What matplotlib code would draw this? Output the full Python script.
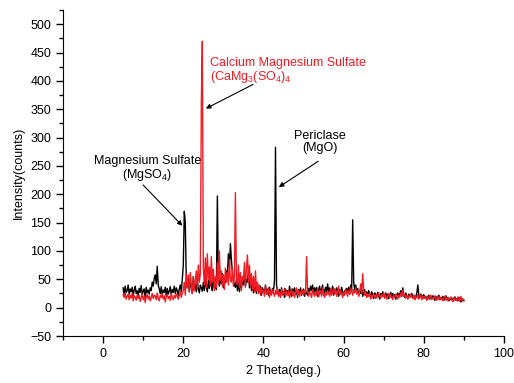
import numpy as np
import matplotlib
matplotlib.use("Agg")
import matplotlib.pyplot as plt
from matplotlib.ticker import MultipleLocator

plt.rcParams['font.family'] = ['Liberation Sans', 'DejaVu Sans']
plt.rcParams['mathtext.fontset'] = 'custom'
plt.rcParams['mathtext.rm'] = 'Liberation Sans'

# 2 theta sampling grid (deg), 0.25 deg step from 5 to 90
two_theta = np.linspace(5, 90, 341)

# black pattern (counts), 4 values per degree
black_counts = [
    35, 22, 38, 27,  30, 40, 24, 33,  28, 36, 21, 31,  38, 25, 30, 20,   # 5-8
    34, 27, 39, 23,  29, 33, 18, 36,  26, 31, 24, 35,  30, 45, 38, 52,   # 9-12
    58, 42, 73, 40,  33, 25, 37, 22,  31, 27, 36, 20,  34, 24, 29, 37,   # 13-16
    22, 32, 27, 38,  25, 35, 30, 21,  33, 40, 28, 50,  75, 170, 150, 48, # 17-20
    35, 52, 28, 44,  38, 25, 55, 30,  42, 28, 48, 33,  26, 40, 35, 29,   # 21-24
    45, 30, 52, 36,  28, 48, 34, 55,  40, 30, 58, 35,  45, 32, 197, 48,  # 25-28
    38, 55, 42, 60,  35, 50, 44, 65,  58, 95, 70, 113, 85, 62, 48, 40,   # 29-32
    36, 50, 30, 45,  28, 42, 35, 55,  40, 62, 38, 50,  45, 65, 35, 58,   # 33-36
    30, 48, 26, 40,  35, 25, 42, 30,  28, 38, 22, 35,  30, 26, 40, 24,   # 37-40
    33, 22, 36, 28,  25, 34, 30, 48,  283, 40, 28, 22, 32, 20, 35, 25,   # 41-44
    28, 18, 33, 24,  30, 22, 38, 26,  20, 33, 27, 35,  24, 30, 18, 32,   # 45-48
    26, 35, 22, 29,  33, 20, 30, 25,  22, 34, 28, 38,  30, 40, 24, 35,   # 49-52
    27, 36, 20, 32,  38, 25, 33, 40,  22, 30, 36, 27,  42, 28, 35, 24,   # 53-56
    30, 38, 22, 33,  26, 35, 29, 20,  32, 24, 36, 28,  22, 30, 26, 34,   # 57-60
    28, 36, 24, 40,  30, 155, 45, 32, 40, 28, 34, 22,  30, 25, 33, 20,   # 61-64
    26, 32, 22, 28,  20, 30, 24, 18,  28, 22, 16, 26,  24, 18, 27, 20,   # 65-68
    15, 25, 21, 28,  22, 17, 26, 20,  24, 16, 22, 27,  18, 25, 20, 23,   # 69-72
    15, 22, 26, 19,  24, 30, 20, 35,  22, 18, 26, 20,  16, 24, 19, 22,   # 73-76
    25, 18, 22, 15,  20, 26, 40, 22,  18, 24, 16, 21,  23, 17, 20, 14,   # 77-80
    19, 22, 15, 20,  16, 21, 18, 13,  20, 15, 19, 22,  14, 18, 16, 20,   # 81-84
    13, 17, 21, 15,  18, 12, 16, 14,  17, 11, 15, 19,  13, 16, 12, 18,   # 85-88
    15, 10, 14, 12,  13,                                                  # 89-90
]

# red pattern (counts), 4 values per degree
red_counts = [
    22, 18, 26, 15,  20, 24, 14, 22,  17, 25, 12, 21,  19, 13, 23, 16,   # 5-8
    22, 11, 18, 24,  14, 20, 9, 19,   23, 15, 21, 12,  18, 25, 16, 22,   # 9-12
    20, 14, 26, 17,  12, 22, 18, 24,  15, 21, 10, 19,  23, 16, 20, 13,   # 13-16
    25, 18, 14, 22,  17, 24, 20, 15,  22, 28, 18, 25,  30, 45, 22, 60,   # 17-20
    35, 58, 28, 62,  40, 25, 55, 30,  48, 65, 32, 75,  45, 60, 360, 470, # 21-24
    70, 40, 88, 35,  95, 50, 72, 38,  90, 45, 68, 30,  55, 35, 80, 42,   # 25-28
    100, 48, 65, 38, 58, 32, 70, 45,  62, 40, 85, 50,  45, 68, 38, 55,   # 29-32
    203, 52, 40, 75, 35, 62, 30, 55,  48, 80, 36, 70,  93, 45, 75, 38,   # 33-36
    60, 32, 55, 28,  65, 30, 45, 25,  40, 22, 35, 28,  30, 20, 38, 24,   # 37-40
    27, 35, 18, 30,  22, 32, 26, 20,  30, 24, 35, 20,  28, 18, 32, 22,   # 41-44
    25, 34, 20, 28,  22, 30, 17, 26,  33, 21, 28, 18,  26, 35, 22, 30,   # 45-48
    20, 28, 24, 32,  22, 30, 26, 90,  30, 20, 28, 24,  18, 32, 25, 20,   # 49-52
    28, 22, 34, 19,  26, 30, 20, 35,  24, 18, 28, 22,  30, 25, 20, 33,   # 53-56
    22, 28, 35, 24,  32, 20, 26, 38,  22, 30, 25, 18,  28, 22, 33, 26,   # 57-60
    20, 30, 24, 35,  28, 22, 32, 26,  35, 24, 30, 20,  28, 42, 25, 60,   # 61-64
    30, 22, 28, 18,  24, 20, 26, 15,  22, 18, 25, 20,  16, 23, 19, 26,   # 65-68
    21, 17, 24, 19,  26, 18, 22, 15,  20, 25, 17, 23,  19, 14, 22, 18,   # 69-72
    24, 20, 15, 22,  18, 26, 21, 30,  20, 24, 17, 22,  15, 21, 18, 24,   # 73-76
    19, 16, 22, 14,  20, 17, 23, 15,  18, 22, 14, 20,  16, 21, 17, 13,   # 77-80
    20, 15, 19, 22,  14, 18, 16, 21,  17, 13, 20, 15,  19, 14, 17, 12,   # 81-84
    16, 20, 13, 18,  12, 17, 15, 19,  14, 11, 18, 13,  16, 12, 19, 14,   # 85-88
    11, 20, 13, 16,  12,                                                  # 89-90
]

fig = plt.figure(figsize=(5.14, 3.83), dpi=100)
ax = fig.add_axes([0.1226, 0.1227, 0.858, 0.851])

ax.plot(two_theta, black_counts, color='black', linewidth=1.0)
ax.plot(two_theta, red_counts, color='#f01c24', linewidth=1.0)

ax.set_xlim(-10, 100)
ax.set_ylim(-50, 525)
ax.xaxis.set_major_locator(MultipleLocator(20))
ax.xaxis.set_minor_locator(MultipleLocator(10))
ax.yaxis.set_major_locator(MultipleLocator(50))
ax.yaxis.set_minor_locator(MultipleLocator(25))
ax.tick_params(which='major', direction='out', length=5, width=1, labelsize=9)
ax.tick_params(which='minor', direction='out', length=3, width=1)
ax.spines['top'].set_visible(False)
ax.spines['right'].set_visible(False)
ax.set_xlabel('2 Theta(deg.)', fontsize=9)
ax.set_ylabel('Intensity(counts)', fontsize=9)

arrow = dict(arrowstyle='-|>', color='black', lw=0.8, mutation_scale=7)

# Calcium Magnesium Sulfate
ax.text(26.7, 418, 'Calcium Magnesium Sulfate\n(CaMg$_3$(SO$_4$)$_4$',
        color='#f01c24', fontsize=9, ha='left', va='center', linespacing=1.0)
ax.annotate('', xy=(25.0, 349), xytext=(38.0, 396), arrowprops=arrow)

# Periclase
ax.text(54.0, 292, 'Periclase\n(MgO)', fontsize=9, ha='center', va='center',
        linespacing=1.0)
ax.annotate('', xy=(43.25, 210), xytext=(54.25, 261), arrowprops=arrow)

# Magnesium Sulfate
ax.text(11.0, 244, 'Magnesium Sulfate\n(MgSO$_4$)', fontsize=9, ha='center',
        va='center', linespacing=1.0)
ax.annotate('', xy=(20.25, 141), xytext=(9.5, 220), arrowprops=arrow)

fig.savefig('out.png', dpi=100)
